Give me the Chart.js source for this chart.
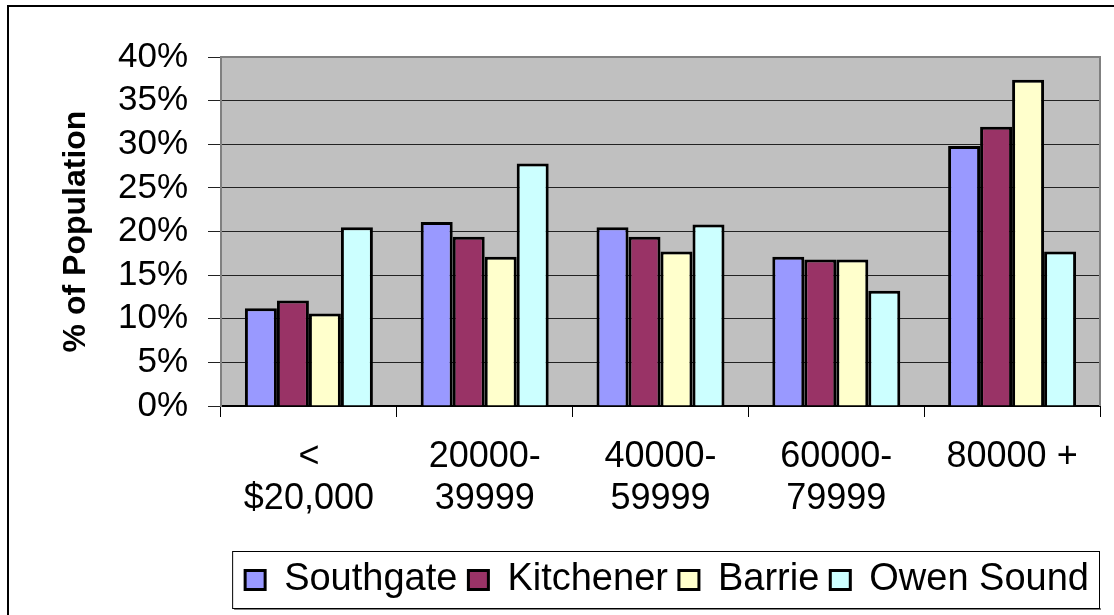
<!DOCTYPE html>
<html>
<head>
<meta charset="utf-8">
<script src="https://cdn.jsdelivr.net/npm/chart.js@4"></script>
<style>
  body { margin: 0; background: #fff; }
  canvas { display: block; }
</style>
</head>
<body>
<canvas id="grafico" width="1114" height="615"></canvas>
<script>
// income brackets on the x axis
const categorias = [['<', '$20,000'], ['20000-', '39999'], ['40000-', '59999'], ['60000-', '79999'], '80000 +'];

// % of population per bracket
const southgate = [11.2, 21.1, 20.5, 17.1, 29.8];
const kitchener = [12.1, 19.4, 19.4, 16.8, 32.0];
const barrie = [10.6, 17.1, 17.7, 16.8, 37.4];
const owenSound = [20.5, 27.8, 20.8, 13.2, 17.7];

const nomes = ['Southgate', 'Kitchener', 'Barrie', 'Owen Sound'];
const cores = ['#9999FF', '#993366', '#FFFFCC', '#CCFFFF'];
const series = [southgate, kitchener, barrie, owenSound];

const fonte = "'Liberation Sans', Arial, sans-serif";

// gray plot background, outer frame and legend frame
const molduras = {
  id: 'molduras',
  beforeDraw(chart) {
    const { ctx, chartArea: a } = chart;
    ctx.save();
    ctx.fillStyle = '#C0C0C0';
    ctx.fillRect(a.left, a.top, a.right - a.left, a.bottom - a.top);
    ctx.restore();
  },
  afterDraw(chart) {
    const { ctx, chartArea: a } = chart;
    ctx.save();
    // plot border (top / right)
    ctx.strokeStyle = '#808080';
    ctx.lineWidth = 2;
    ctx.beginPath();
    ctx.moveTo(a.left, a.top);
    ctx.lineTo(a.right, a.top);
    ctx.lineTo(a.right, a.bottom);
    ctx.stroke();
    // outer chart frame
    ctx.strokeStyle = '#000';
    ctx.lineWidth = 2;
    ctx.strokeRect(8, 6, 1300, 800);
    // legend frame
    const caixas = chart.legend.legendHitBoxes;
    if (caixas && caixas.length) {
      const esq = Math.min(...caixas.map(b => b.left)) - 13;
      const dir = Math.max(...caixas.map(b => b.left + b.width)) + 10;
      const topo = chart.legend.top + 1;
      const base = chart.legend.bottom - 1;
      ctx.fillStyle = '#808080';
      ctx.fillRect(esq + 2, base, dir - esq, 2);
      ctx.strokeStyle = '#000';
      ctx.lineWidth = 1;
      ctx.strokeRect(esq + 0.5, topo + 0.5, dir - esq, base - topo);
    }
    ctx.restore();
  }
};

const ctx = document.getElementById('grafico').getContext('2d');
new Chart(ctx, {
  type: 'bar',
  data: {
    labels: categorias,
    datasets: series.map((dados, i) => ({
      label: nomes[i],
      data: dados,
      backgroundColor: cores[i],
      borderColor: '#000',
      borderWidth: 3,
      categoryPercentage: 0.728,
      barPercentage: 1.0
    }))
  },
  options: {
    responsive: false,
    animation: false,
    layout: { padding: { left: 0, right: 14, top: 57, bottom: 6 } },
    plugins: {
      legend: {
        position: 'bottom',
        align: 'end',
        labels: {
          color: '#000',
          font: { family: fonte, size: 38 },
          boxWidth: 20,
          boxHeight: 19,
          padding: 11
        }
      },
      tooltip: { enabled: false }
    },
    scales: {
      x: {
        grid: { drawOnChartArea: false, drawTicks: true, tickLength: 11, color: '#000', offset: true },
        border: { color: '#000', width: 2 },
        ticks: { color: '#000', font: { family: fonte, size: 36, lineHeight: 1.17 }, padding: 19, maxRotation: 0, autoSkip: false },
        afterFit(scale) {
          const leg = scale.chart.legend ? scale.chart.legend.height : 0;
          scale.height = 615 - 406 - 6 - leg;
        }
      },
      y: {
        min: 0,
        max: 40,
        grid: { color: '#222', lineWidth: 1, tickLength: 13 },
        border: { color: '#808080', width: 2 },
        ticks: {
          stepSize: 5,
          autoSkip: false,
          color: '#000',
          padding: 20,
          font: { family: fonte, size: 35 },
          callback: v => v + '%'
        },
        title: {
          display: true,
          text: '% of Population',
          color: '#000',
          font: { family: fonte, size: 32, weight: 'bold' },
          padding: { top: 57, bottom: 0 }
        },
        afterFit(scale) { scale.width = 221; }
      }
    }
  },
  plugins: [molduras]
});
</script>
</body>
</html>
